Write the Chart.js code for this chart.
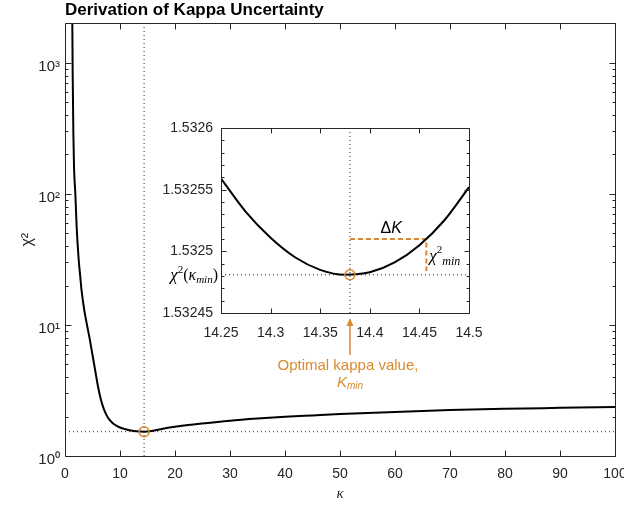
<!DOCTYPE html>
<html>
<head>
<meta charset="utf-8">
<script src="https://cdn.jsdelivr.net/npm/chart.js@4.4.1/dist/chart.umd.min.js"></script>
<style>
  body { margin: 0; background: #fff; }
  #wrap { position: relative; width: 624px; height: 506px; }
  #main { position: absolute; left: 0; top: 0; }
  #inset { position: absolute; left: 140px; top: 110px; }
</style>
</head>
<body>
<div id="wrap">
  <canvas id="main" width="624" height="506"></canvas>
  <canvas id="inset" width="345" height="290"></canvas>
</div>
<script>
// main curve
const kappa = [1.3, 1.4, 1.52, 1.64, 1.88, 2.12, 2.5, 2.75, 3.0, 3.5, 4.0, 4.5, 5.0, 5.5, 6.0, 6.5, 7.0, 7.5, 8.0, 8.5, 9.0, 10, 11, 12, 13, 14.38, 16, 18, 20, 25, 30, 35, 40, 45, 50, 60, 70, 80, 90, 100]
const chi2 = [3000, 800, 290, 160, 100, 56, 31, 24, 18.5, 13, 10, 7.8, 5.9, 4.47, 3.39, 2.72, 2.32, 2.07, 1.91, 1.81, 1.74, 1.65, 1.6, 1.565, 1.545, 1.5325, 1.56, 1.62, 1.67, 1.77, 1.86, 1.93, 1.99, 2.04, 2.09, 2.17, 2.24, 2.29, 2.33, 2.37]

// zoomed curve around the minimum
const insetKappa = [14.25, 14.275, 14.3, 14.325, 14.35, 14.375, 14.4, 14.425, 14.45, 14.475, 14.5]
const insetChi2 = [1.532559, 1.532532, 1.532511, 1.532495, 1.532485, 1.532481, 1.532483, 1.532491, 1.532505, 1.532525, 1.532552]

const kappaMin = 14.38
const chi2MinMain = 1.5325
const chi2MinInset = 1.532481
const deltaKappaEnd = 14.457
const deltaChi2Top = 1.53251
const deltaChi2Low = 1.532484

const mainXTicks = [0, 10, 20, 30, 40, 50, 60, 70, 80, 90, 100]
const mainYTicks = [1, 10, 100, 1000]
const mainYLabels = ['10⁰', '10¹', '10²', '10³']
const insetXTicks = [14.25, 14.3, 14.35, 14.4, 14.45, 14.5]
const insetYTicks = [1.53245, 1.5325, 1.53255, 1.5326]

const axisColor = '#262626'
const orange = '#D98A2E'
const tickFont = { family: 'Liberation Sans', size: 14 }

function xy(xs, ys) { return xs.map((v, i) => ({ x: v, y: ys[i] })) }

// no extra room for the overflowing end labels, layout padding decides
function noLabelPad(s) { s.paddingLeft = 0; s.paddingRight = 0 }

function boxTicks(majorLen, minorLen, xMinor, yMinor) {
	return {
		id: 'boxTicks',
		afterDraw(chart) {
			const { ctx, chartArea: a, scales: { x, y } } = chart
			ctx.save()
			ctx.strokeStyle = axisColor
			ctx.lineWidth = 1
			ctx.beginPath()
			ctx.rect(Math.round(a.left) + 0.5, Math.round(a.top) + 0.5, Math.round(a.right - a.left), Math.round(a.bottom - a.top))
			const l = Math.round(a.left) + 0.5, r = Math.round(a.right) + 0.5
			const t = Math.round(a.top) + 0.5, b = Math.round(a.bottom) + 0.5
			const xt = (v, len) => {
				const p = Math.round(x.getPixelForValue(v)) + 0.5
				ctx.moveTo(p, b); ctx.lineTo(p, b - len)
				ctx.moveTo(p, t); ctx.lineTo(p, t + len)
			}
			const yt = (v, len) => {
				const p = Math.round(y.getPixelForValue(v)) + 0.5
				ctx.moveTo(l, p); ctx.lineTo(l + len, p)
				ctx.moveTo(r, p); ctx.lineTo(r - len, p)
			}
			x.ticks.forEach(tk => xt(tk.value, majorLen))
			y.ticks.forEach(tk => yt(tk.value, majorLen))
			xMinor.forEach(v => xt(v, minorLen))
			yMinor.forEach(v => yt(v, minorLen))
			ctx.stroke()
			ctx.restore()
		}
	}
}

function richText(ctx, parts, x, y, align) {
	let w = 0
	parts.forEach(p => { ctx.font = p[1]; w += ctx.measureText(p[0]).width })
	let cx = align === 'right' ? x - w : align === 'center' ? x - w / 2 : x
	ctx.textAlign = 'left'
	ctx.textBaseline = 'alphabetic'
	parts.forEach(p => {
		ctx.font = p[1]
		ctx.fillText(p[0], cx, y + (p[2] || 0))
		cx += ctx.measureText(p[0]).width
	})
}

// log minor ticks
const mainYMinor = []
mainYTicks.forEach(d => { for (let m = 2; m <= 9; m++) if (d * m <= 2000) mainYMinor.push(d * m) })
const insetYMinor = []
for (let i = 1; i < 15; i++) if (i % 5) insetYMinor.push(1.53245 + i * 0.00001)

new Chart(document.getElementById('main'), {
	type: 'line',
	data: {
		datasets: [
			{ data: [{ x: kappaMin, y: chi2MinMain }], showLine: false, pointRadius: 5, pointBorderColor: orange, pointBackgroundColor: 'rgba(0,0,0,0)', pointBorderWidth: 1.5 },
			{ data: xy(kappa, chi2), borderColor: '#000', borderWidth: 2, pointRadius: 0, cubicInterpolationMode: 'monotone' },
			{ data: [{ x: kappaMin, y: 1 }, { x: kappaMin, y: 2000 }], borderColor: axisColor, borderWidth: 1, borderDash: [1, 3], pointRadius: 0 },
			{ data: [{ x: 0, y: chi2MinMain }, { x: 100, y: chi2MinMain }], borderColor: axisColor, borderWidth: 1, borderDash: [1, 3], pointRadius: 0 }
		]
	},
	options: {
		responsive: false,
		animation: false,
		events: [],
		layout: { padding: { left: 0, right: 9, top: 0, bottom: 0 } },
		plugins: {
			legend: { display: false },
			tooltip: { enabled: false },
			title: {
				display: true, text: 'Derivation of Kappa Uncertainty', align: 'start', fullSize: false,
				color: '#000', font: { family: 'Liberation Sans', size: 17, weight: 'bold' },
				padding: { top: 0, bottom: 3 }
			}
		},
		scales: {
			x: {
				type: 'linear', min: 0, max: 100,
				afterBuildTicks: s => { s.ticks = mainXTicks.map(v => ({ value: v })) },
				afterFit: s => { s.height = 50; noLabelPad(s) },
				ticks: { color: axisColor, font: tickFont, padding: 10, maxRotation: 0, autoSkip: false },
				grid: { display: false, drawTicks: false },
				border: { display: false },
				title: { display: true, text: 'κ', color: axisColor, font: { family: 'Liberation Serif', size: 15, style: 'italic' }, padding: { top: 0, bottom: 3 } }
			},
			y: {
				type: 'logarithmic', min: 1, max: 2000,
				afterBuildTicks: s => { s.ticks = mainYTicks.map(v => ({ value: v })) },
				afterFit: s => { s.width = 65 },
				ticks: { color: axisColor, font: { family: 'Liberation Sans', size: 15 }, padding: 5, labelOffset: 4, autoSkip: false, callback: (v, i) => mainYLabels[i] },
				grid: { display: false, drawTicks: false },
				border: { display: false },
				title: { display: true, text: 'χ²', color: axisColor, font: { family: 'Liberation Sans', size: 16 }, padding: { top: 18, bottom: 0 } }
			}
		}
	},
	plugins: [boxTicks(6, 3, [], mainYMinor)]
})

const insetNotes = {
	id: 'insetNotes',
	afterDraw(chart) {
		const { ctx, chartArea: a, scales: { x, y } } = chart
		ctx.save()
		const serif = '"Liberation Serif"'
		// chi2(kappa_min) label at the left of the axis
		ctx.fillStyle = '#000'
		const ym = y.getPixelForValue(chi2MinInset)
		richText(ctx, [
			['χ', 'italic 17px ' + serif], ['2', '11px ' + serif, -7], ['(', '16px ' + serif],
			['κ', 'italic 16px ' + serif], ['min', 'italic 11px ' + serif, 3], [')', '16px ' + serif]
		], a.left - 3, ym + 5, 'right')
		// delta kappa label
		const x0 = x.getPixelForValue(kappaMin), x1 = x.getPixelForValue(deltaKappaEnd)
		const yTop = y.getPixelForValue(deltaChi2Top), yLow = y.getPixelForValue(deltaChi2Low)
		richText(ctx, [['Δ', '16px "Liberation Sans"'], ['K', 'italic 16px "Liberation Sans"']], (x0 + x1) / 2 + 3, yTop - 6, 'center')
		// chi2 min label right of the dashed drop
		richText(ctx, [['χ', 'italic 17px ' + serif], ['2', '11px ' + serif, -8], ['min', 'italic 12px ' + serif, 4]], x1 + 3, (yTop + yLow) / 2 + 6, 'left')
		// arrow pointing at the optimal kappa
		ctx.fillStyle = orange
		ctx.strokeStyle = orange
		ctx.lineWidth = 1.5
		ctx.beginPath()
		ctx.moveTo(x0, a.bottom + 10); ctx.lineTo(x0, a.bottom + 42)
		ctx.stroke()
		ctx.beginPath()
		ctx.moveTo(x0, a.bottom + 5); ctx.lineTo(x0 - 3.5, a.bottom + 13); ctx.lineTo(x0 + 3.5, a.bottom + 13)
		ctx.closePath(); ctx.fill()
		richText(ctx, [['Optimal kappa value,', '15px "Liberation Sans"']], x0 - 2, a.bottom + 57, 'center')
		richText(ctx, [['K', 'italic 15px "Liberation Sans"'], ['min', 'italic 10px "Liberation Sans"', 2]], x0, a.bottom + 74, 'center')
		ctx.restore()
	}
}

new Chart(document.getElementById('inset'), {
	type: 'line',
	data: {
		datasets: [
			{ data: [{ x: kappaMin, y: chi2MinInset }], showLine: false, pointRadius: 5, pointBorderColor: orange, pointBackgroundColor: 'rgba(0,0,0,0)', pointBorderWidth: 1.5 },
			{ data: xy(insetKappa, insetChi2), borderColor: '#000', borderWidth: 2, pointRadius: 0, cubicInterpolationMode: 'monotone' },
			{ data: [{ x: kappaMin, y: deltaChi2Top }, { x: deltaKappaEnd, y: deltaChi2Top }, { x: deltaKappaEnd, y: deltaChi2Low }], borderColor: orange, borderWidth: 2, borderDash: [5, 3], pointRadius: 0 },
			{ data: [{ x: kappaMin, y: 1.53245 }, { x: kappaMin, y: 1.5326 }], borderColor: axisColor, borderWidth: 1, borderDash: [1, 3], pointRadius: 0 },
			{ data: [{ x: 14.25, y: chi2MinInset }, { x: 14.5, y: chi2MinInset }], borderColor: axisColor, borderWidth: 1, borderDash: [1, 3], pointRadius: 0 }
		]
	},
	options: {
		responsive: false,
		animation: false,
		events: [],
		layout: { padding: { left: 0, right: 16, top: 18, bottom: 0 } },
		plugins: { legend: { display: false }, tooltip: { enabled: false } },
		scales: {
			x: {
				type: 'linear', min: 14.25, max: 14.5,
				afterBuildTicks: s => { s.ticks = insetXTicks.map(v => ({ value: v })) },
				afterFit: s => { s.height = 87; noLabelPad(s) },
				ticks: { color: axisColor, font: tickFont, padding: 12, maxRotation: 0, autoSkip: false, callback: v => String(+v.toFixed(2)) },
				grid: { display: false, drawTicks: false },
				border: { display: false }
			},
			y: {
				type: 'linear', min: 1.53245, max: 1.5326,
				afterBuildTicks: s => { s.ticks = insetYTicks.map(v => ({ value: v })) },
				afterFit: s => { s.width = 81 },
				ticks: { color: axisColor, font: tickFont, padding: 8, autoSkip: false, callback: v => String(+v.toFixed(5)) },
				grid: { display: false, drawTicks: false },
				border: { display: false }
			}
		}
	},
	plugins: [boxTicks(5, 3, [], insetYMinor), insetNotes]
})
</script>
</body>
</html>
